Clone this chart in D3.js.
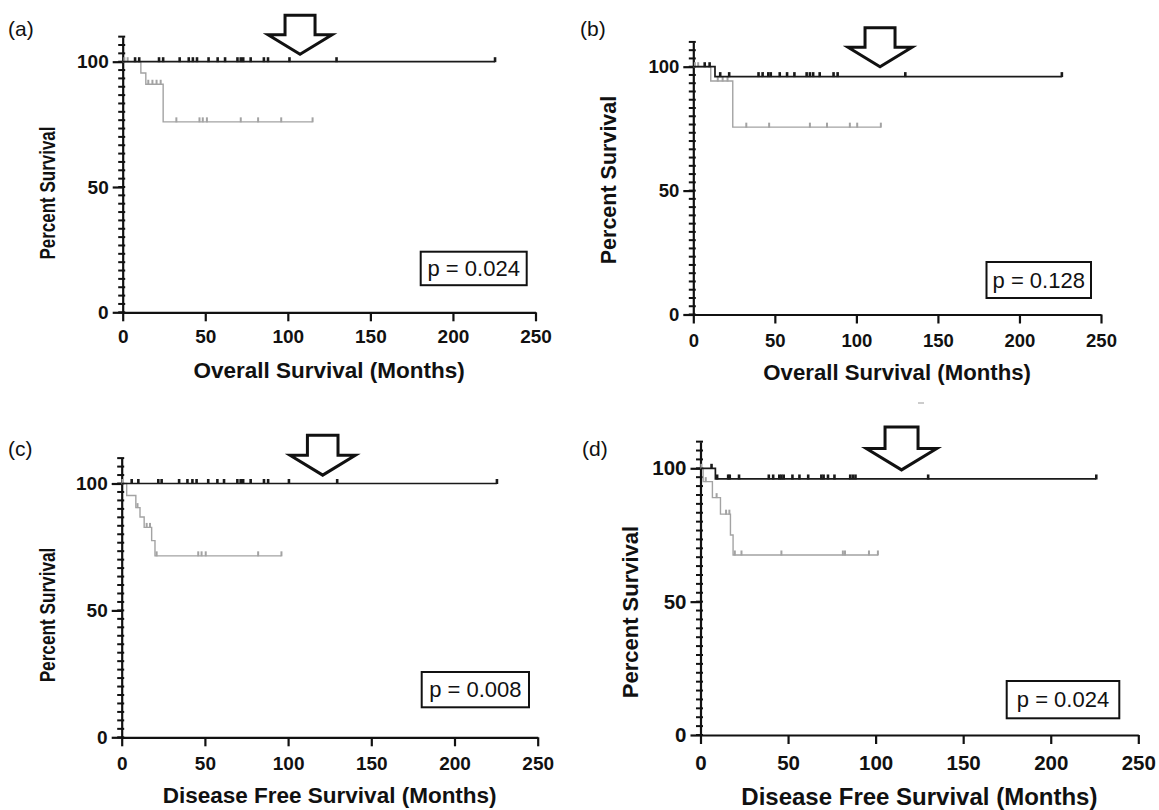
<!DOCTYPE html>
<html>
<head>
<meta charset="utf-8">
<title>Kaplan-Meier survival panels</title>
<script src="https://cdn.jsdelivr.net/npm/d3@7"></script>
<style>
  body { margin: 0; background: #fff; }
  svg text { font-family: "Liberation Sans", Arial, sans-serif; fill: #111; }
</style>
</head>
<body>
<svg id="chart" width="1159" height="810"></svg>
<script>
// ---- data ----
var xTickValues = [0, 50, 100, 150, 200, 250];
var yTickValues = [0, 50, 100];
var panelTags = ["(a)", "(b)", "(c)", "(d)"];
var yTitle = "Percent Survival";
var xTitles = ["Overall Survival (Months)", "Overall Survival (Months)",
               "Disease Free Survival (Months)", "Disease Free Survival (Months)"];
var pValues = ["p = 0.024", "p = 0.128", "p = 0.008", "p = 0.024"];

// upper (black) group: [month, percent] steps, censor months, last follow-up
var aBlackSteps = [[0, 100]];
var aBlackCensor = [7.5, 10, 22, 24.5, 34.5, 40, 42.5, 45, 52, 57.5, 62, 69.5, 71.5, 73, 77.5, 85.5, 88, 101, 129.5, 225.5];
var aBlackEnd = 225.5;
var aGraySteps = [[0, 100], [11, 95.5], [14, 91], [24.5, 76]];
var aGrayCensor = [1, 3, 15.5, 18, 20.5, 23, 32.5, 46.5, 48.5, 51, 71.5, 82, 96, 115];
var aGrayEnd = 115;

var bBlackSteps = [[0, 100], [13.3, 96]];
var bBlackCensor = [7, 10, 16.5, 22, 40, 42.5, 46, 47.5, 53, 57.5, 62, 69.5, 71.5, 73.5, 77.5, 86, 88.5, 130, 226];
var bBlackEnd = 226;
var bGraySteps = [[0, 100], [10.7, 94.2], [24.2, 75.6]];
var bGrayCensor = [1, 3, 15, 18, 21, 32.5, 46.5, 71.5, 82, 96, 100.5, 115];
var bGrayEnd = 115;

var cBlackSteps = [[0, 100]];
var cBlackCensor = [6, 10, 22, 24, 34.5, 39.5, 42.5, 45, 52, 57.5, 61.5, 69.5, 71.5, 73, 77.5, 85.5, 88, 100.5, 129.5, 225.5];
var cBlackEnd = 225.5;
var cGraySteps = [[0, 100], [3, 95.3], [8.5, 90.5], [11, 86.8], [13.5, 82.7], [18, 77.5], [20, 71.5]];
var cGrayCensor = [0.5, 9.5, 15, 17, 21, 46, 48, 50.5, 82, 96];
var cGrayEnd = 96;

var dBlackSteps = [[0, 100], [8.5, 96]];
var dBlackCensor = [6.3, 9.5, 15.8, 16.7, 22, 39, 41.5, 45, 46.2, 47.5, 52.5, 56.5, 61.5, 69, 70.3, 72.8, 76.5, 85.5, 87, 88.5, 130, 226];
var dBlackEnd = 226;
var dGraySteps = [[0, 100], [1.5, 95], [6.8, 89], [11.4, 82.8], [17.1, 75], [18.6, 67.5]];
var dGrayCensor = [0.5, 3, 9.2, 14.6, 16.5, 19.6, 23.4, 46.2, 81.3, 82.5, 96.2, 101.3];
var dGrayEnd = 101.3;

// open arrows drawn above each plot: tip position in data units
var arrowMonths = [107.4, 114.5, 120.8, 114.8];
var arrowLevels = [103, 100, 103.3, 99.4];

// ---- layout (pixel frame of every panel) ----
// ytSquash: the y titles of (a) and (c) are squeezed along their length in the original
var layout = [
  {x0: 122.7, x1: 535.5, y0: 312.3, y100: 61.7, tick: 19, ytitle: 21.5, ytSquash: 0.79, xtitle: 22.5,
   tagX: 8, tagY: 36, ytX: 47, ytY: 193, xtOff: 66, tlOff: 31,
   box: [420.7, 251.7, 106, 33.5], arrow: 1},
  {x0: 693.3, x1: 1101, y0: 314.5, y100: 66.7, tick: 18.5, ytitle: 21.5, ytSquash: 1, xtitle: 22.2,
   tagX: 580, tagY: 36, ytX: 608, ytY: 180, xtOff: 65, tlOff: 32,
   box: [986.5, 262, 104.5, 36], arrow: 1},
  {x0: 121.7, x1: 537.7, y0: 737.3, y100: 483.5, tick: 19, ytitle: 21.5, ytSquash: 0.8, xtitle: 22.5,
   tagX: 8, tagY: 456, ytX: 47, ytY: 615, xtOff: 66, tlOff: 33,
   box: [421.7, 672, 107.3, 35.3], arrow: 1.02},
  {x0: 700.5, x1: 1138.3, y0: 735, y100: 468.3, tick: 20.5, ytitle: 22, ytSquash: 1, xtitle: 24,
   tagX: 582, tagY: 456, ytX: 630, ytY: 612, xtOff: 70, tlOff: 35,
   box: [1006.7, 681, 112.6, 37.3], arrow: 1.1}
];

var black = [[aBlackSteps, aBlackCensor, aBlackEnd], [bBlackSteps, bBlackCensor, bBlackEnd],
             [cBlackSteps, cBlackCensor, cBlackEnd], [dBlackSteps, dBlackCensor, dBlackEnd]];
var gray = [[aGraySteps, aGrayCensor, aGrayEnd], [bGraySteps, bGrayCensor, bGrayEnd],
            [cGraySteps, cGrayCensor, cGrayEnd], [dGraySteps, dGrayCensor, dGrayEnd]];

var svg = d3.select("#chart");

function levelAt(steps, t) {
  var lv = steps[0][1];
  steps.forEach(function(s) { if (s[0] <= t) lv = s[1]; });
  return lv;
}

function drawCurve(g, x, y, curve, colour, width, markWidth) {
  var steps = curve[0], censor = curve[1], end = curve[2];
  var pts = steps.concat([[end, steps[steps.length - 1][1]]]);
  var line = d3.line().x(function(d) { return x(d[0]); })
                      .y(function(d) { return y(d[1]); })
                      .curve(d3.curveStepAfter);
  g.append("path").attr("d", line(pts)).attr("fill", "none")
   .attr("stroke", colour).attr("stroke-width", width);
  g.selectAll(null).data(censor).enter().append("line")
   .attr("x1", function(d) { return x(d); })
   .attr("x2", function(d) { return x(d); })
   .attr("y1", function(d) { return y(levelAt(steps, d)) + 0.5; })
   .attr("y2", function(d) { return y(levelAt(steps, d)) - 4.5; })
   .attr("stroke", colour).attr("stroke-width", markWidth);
}

layout.forEach(function(L, i) {
  var g = svg.append("g");
  var x = d3.scaleLinear().domain([0, 250]).range([L.x0, L.x1]);
  var y = d3.scaleLinear().domain([0, 110]).range([L.y0, L.y0 - (L.y0 - L.y100) * 1.1]);

  // x axis
  var xa = g.append("g").attr("transform", "translate(0," + L.y0 + ")")
    .call(d3.axisBottom(x).tickValues(xTickValues).tickSize(9).tickSizeOuter(0)
          .tickPadding(L.tlOff - 9 - 0.71 * L.tick));
  // y axis
  var ya = g.append("g").attr("transform", "translate(" + L.x0 + ",0)")
    .call(d3.axisLeft(y).tickValues(yTickValues).tickSize(10).tickSizeOuter(0).tickPadding(4));
  [xa, ya].forEach(function(a) {
    a.select(".domain").attr("stroke", "#111").attr("stroke-width", 2.2);
    a.selectAll(".tick line").attr("stroke", "#111").attr("stroke-width", 2.2);
    a.selectAll(".tick text").attr("font-size", L.tick).attr("font-weight", "bold")
      .attr("font-family", "'Liberation Sans', Arial, sans-serif").attr("fill", "#111");
  });
  // minor ticks on y
  g.selectAll(null).data(d3.range(34).map(function(k) { return k * 10 / 3; })).enter()
   .append("line")
   .attr("x1", L.x0 - 4.5).attr("x2", L.x0 + 2.5)
   .attr("y1", function(d) { return y(d); }).attr("y2", function(d) { return y(d); })
   .attr("stroke", "#111").attr("stroke-width", 2);

  drawCurve(g, x, y, gray[i], "#a3a3a3", 1.4, 2);
  drawCurve(g, x, y, black[i], "#1a1a1a", 1.7, 2.6);

  // panel tag
  g.append("text").attr("x", L.tagX).attr("y", L.tagY).attr("font-size", 21).text(panelTags[i]);
  // y title
  g.append("text")
   .attr("transform", "translate(" + L.ytX + "," + L.ytY + ") rotate(-90) scale(" + L.ytSquash + ",1)")
   .attr("text-anchor", "middle").attr("dy", "0.35em")
   .attr("font-size", L.ytitle).attr("font-weight", "bold").text(yTitle);
  // x title
  g.append("text").attr("x", (L.x0 + L.x1) / 2).attr("y", L.y0 + L.xtOff)
   .attr("text-anchor", "middle").attr("font-size", L.xtitle).attr("font-weight", "bold")
   .text(xTitles[i]);

  // p value box
  var b = L.box;
  g.append("rect").attr("x", b[0]).attr("y", b[1]).attr("width", b[2]).attr("height", b[3])
   .attr("fill", "#fff").attr("stroke", "#111").attr("stroke-width", 2);
  g.append("text").attr("x", b[0] + b[2] / 2).attr("y", b[1] + b[3] / 2)
   .attr("dy", "0.35em").attr("text-anchor", "middle").attr("font-size", 22)
   .text(pValues[i]);

  // open arrow pointing down
  var s = L.arrow, tx = x(arrowMonths[i]), ty = y(arrowLevels[i]);
  var shape = [[-15, -39], [15, -39], [15, -19.5], [32, -19.5], [0, 0], [-32, -19.5], [-15, -19.5]];
  g.append("polygon")
   .attr("points", shape.map(function(p) { return (tx + p[0] * s) + "," + (ty + p[1] * s); }).join(" "))
   .attr("fill", "#fff").attr("stroke", "#111").attr("stroke-width", 3)
   .attr("stroke-linejoin", "miter");
});

// small stray dash above panel (d)
svg.append("line").attr("x1", 918).attr("x2", 924).attr("y1", 403).attr("y2", 403)
   .attr("stroke", "#bbb").attr("stroke-width", 1.5);
</script>
</body>
</html>
